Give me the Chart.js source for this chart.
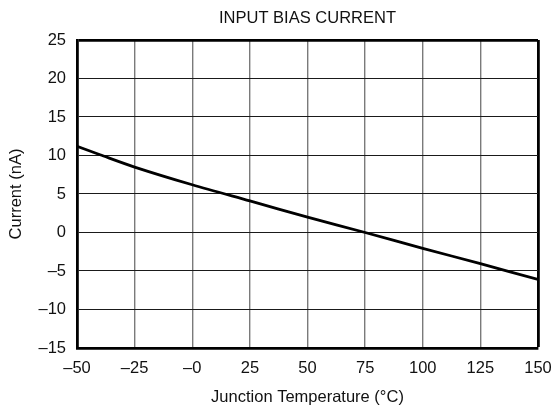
<!DOCTYPE html>
<html>
<head>
<meta charset="utf-8">
<script src="https://cdn.jsdelivr.net/npm/chart.js@4/dist/chart.umd.min.js"></script>
<style>
    html, body { margin: 0; padding: 0; background: #fff; }
    #wrap { width: 551px; height: 410px; }
</style>
</head>
<body>
<div id="wrap"><canvas id="biasChart" width="551" height="410"></canvas></div>
<script>
// Junction temperature (°C) and input bias current (nA)
const temps = [-50, -40, -25, 0, 25, 50, 75, 100, 125, 150];
const current = [11.2, 10.1, 8.5, 6.2, 4.1, 2.0, 0.0, -2.05, -4.05, -6.1];

// tick labels as printed on the original
const xTickLabels = ['–50', '–25', '–0', '25', '50', '75', '100', '125', '150'];
const yTickLabels = ['–15', '–10', '–5', '0', '5', '10', '15', '20', '25'];

const FONT = 'Arial, "Liberation Sans", sans-serif';
Chart.defaults.font.family = FONT;
Chart.defaults.color = '#111';

const ctx = document.getElementById('biasChart').getContext('2d');
new Chart(ctx, {
    type: 'line',
    data: {
        datasets: [{
            data: temps.map((t, i) => ({ x: t, y: current[i] })),
            borderColor: '#000',
            borderWidth: 2.8,
            pointRadius: 0,
            tension: 0.3,
            fill: false
        }]
    },
    options: {
        responsive: false,
        animation: false,
        layout: { padding: 0 },
        plugins: {
            legend: { display: false },
            tooltip: { enabled: false },
            title: {
                display: true,
                fullSize: false,   // centre over the plot, not the canvas
                text: 'INPUT BIAS CURRENT',
                color: '#111',
                font: { size: 16.5, weight: 'normal' },
                padding: { top: 9, bottom: 11.2 }
            }
        },
        scales: {
            x: {
                type: 'linear',
                min: -50,
                max: 150,
                afterFit: (scale) => {
                    scale.height = 62;
                    scale.paddingLeft = 0;
                    scale.paddingRight = 13;
                },
                ticks: {
                    stepSize: 25,
                    padding: 11,
                    font: { size: 16.5 },
                    maxRotation: 0,
                    callback: (v, i) => xTickLabels[i]
                },
                grid: {
                    drawTicks: false,
                    color: (c) => (c.tick && c.tick.value === 150) ? '#000' : '#7a7a7a',
                    lineWidth: (c) => (c.tick && c.tick.value === 150) ? 2.8 : 1.4
                },
                border: { display: true, color: '#000', width: 2.8 },
                title: {
                    display: true,
                    text: 'Junction Temperature (°C)',
                    font: { size: 16.5 },
                    padding: { top: 0, bottom: 3 }
                }
            },
            y: {
                min: -15,
                max: 25,
                afterFit: (scale) => {
                    scale.width = 77;
                    scale.paddingTop = 0;
                    scale.paddingBottom = 0;
                },
                ticks: {
                    stepSize: 5,
                    padding: 11,
                    font: { size: 16.5 },
                    callback: (v, i) => yTickLabels[i]
                },
                grid: {
                    drawTicks: false,
                    color: (c) => (c.tick && c.tick.value === 25) ? '#000' : '#1a1a1a',
                    lineWidth: (c) => (c.tick && c.tick.value === 25) ? 2.8 : 1.1
                },
                border: { display: true, color: '#000', width: 2.8 },
                title: {
                    display: true,
                    text: 'Current (nA)',
                    font: { size: 16.5 },
                    padding: { top: 7, bottom: 0 }
                }
            }
        }
    }
});
</script>
</body>
</html>
